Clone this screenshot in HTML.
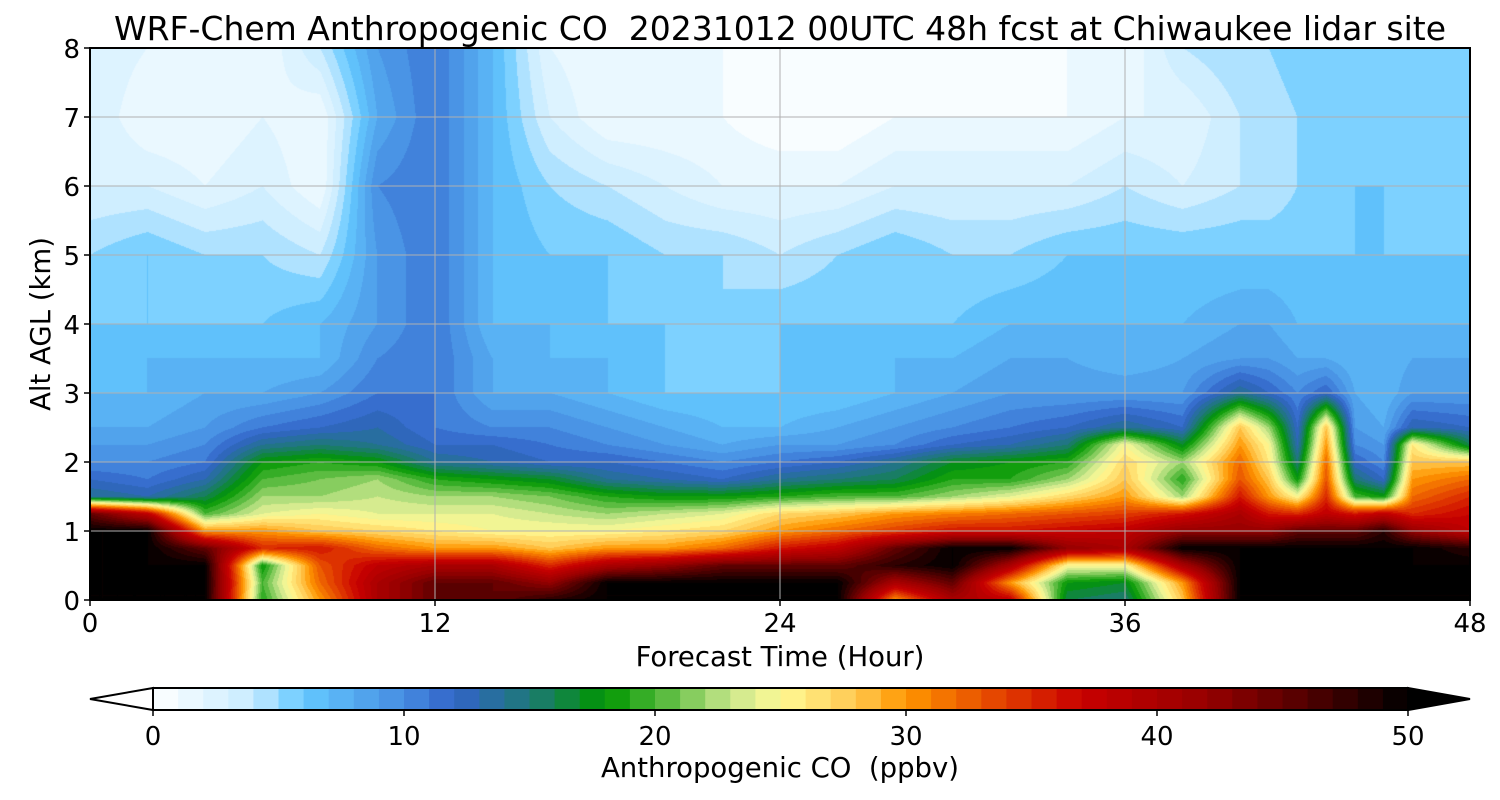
<!DOCTYPE html>
<html><head><meta charset="utf-8">
<style>
body{margin:0;background:#fff;width:1500px;height:800px;overflow:hidden;font-family:"DejaVu Sans","Liberation Sans",sans-serif}
#wrap{position:relative;width:1500px;height:800px}
canvas{position:absolute;left:90px;top:48px}
svg{position:absolute;left:0;top:0}
text{white-space:pre}
</style></head><body>
<div id="wrap">
<canvas id="cv" width="1380" height="552"></canvas>
<svg id="sv" width="1500" height="800"></svg>
</div>
<script>
const times=[0,2,4,6,8,10,12,14,16,18,20,22,24,26,28,30,32,34,36,38,40,41,42,43,44,45,46,48];
const alts=[0,0.25,0.5,0.75,1,1.25,1.5,1.75,2,2.25,2.5,3,3.5,4,5,6,7,8];
const profiles=[
[50,50,50,50,50,45,14,12,10,9,8,7,6,6,5,3,3,3],
[50,50,50,50,50,38,13,11,10,9,8,7,7,6,6,3,1,2],
[50,50,50,45,30,20,16,13,11,10,9,8,7,6,5,2,1,1],
[19,20,18,35,30,24,22,20,18,14,11,8,7,6,5,3,2,1],
[30,32,33,36,28,25,22,21,19,15,12,9,7,7,4,1,1,4],
[40,40,38,32,27,24,23,22,18,14,13,11,10,9,9,10,8,9],
[45,45,40,30,26,24,22,19,14,12,11,11,11,11,11,11,11,11],
[45,45,40,30,25,24,22,18,13,12,10,8,8,7,7,7,7,7],
[48,42,35,28,25,23,21,17,12,11,10,8,7,7,6,5,3,2],
[50,50,40,30,25,22,19,14,12,10,9,7,7,6,6,4,1,1],
[50,50,42,30,26,23,18,13,11,9,8,6,6,6,5,3,1,1],
[50,50,45,32,27,24,18,12,10,8,7,6,5,5,5,2,1,1],
[50,50,45,36,30,27,19,14,11,9,7,6,6,6,4,2,0,0],
[50,50,45,38,32,28,20,15,12,9,8,6,6,6,5,2,0,0],
[30,40,48,45,34,30,20,16,14,10,9,7,7,6,6,3,1,0],
[40,45,50,50,36,31,22,19,17,12,10,8,7,6,5,3,1,0],
[38,30,40,50,36,32,24,19,18,13,11,9,8,7,5,3,1,0],
[16,18,25,42,37,33,27,22,19,15,12,9,8,7,6,3,1,1],
[15,17,25,40,38,34,30,28,27,25,14,9,7,7,6,4,2,1],
[28,30,40,50,42,36,22,19,22,17,12,9,8,7,6,3,2,4],
[50,50,50,50,42,40,36,33,32,30,28,14,9,8,6,4,4,5],
[50,50,50,50,42,36,30,28,26,25,22,12,9,8,6,4,4,5],
[50,50,50,50,45,35,25,18,15,13,12,10,8,7,6,5,5,6],
[50,50,50,50,45,38,35,33,32,30,28,12,8,7,6,5,5,6],
[50,50,50,50,45,36,20,15,12,10,9,8,7,7,6,6,5,6],
[50,50,50,50,48,38,18,12,10,9,8,7,7,7,6,6,5,6],
[50,50,50,50,42,35,32,30,28,26,13,9,8,7,6,5,5,6],
[50,50,50,48,38,37,35,32,28,16,12,9,8,7,6,6,6,6]
];
const xTicks=[0,12,24,36,48];
const yTicks=[0,1,2,3,4,5,6,7,8];
const cbTicks=[0,10,20,30,40,50];
const cAnch=[[0,[255,255,255]],[4,[200,235,255]],[6,[100,200,255]],[10,[70,140,225]],[12,[50,100,200]],[15,[30,120,120]],[18,[0,150,0]],[20,[70,180,50]],[23,[200,230,140]],[25,[255,250,150]],[28,[255,200,80]],[30,[255,150,0]],[34,[225,60,0]],[37,[200,0,0]],[42,[150,0,0]],[46,[80,0,0]],[50,[0,0,0]]];
function cmap(v){v=Math.max(0,Math.min(50,Math.floor(v)+0.5));
 for(let i=0;i<cAnch.length-1;i++){const a=cAnch[i],b=cAnch[i+1];if(v<=b[0]){const f=(v-a[0])/(b[0]-a[0]);return a[1].map((c,k)=>Math.round(c+(b[1][k]-c)*f));}}
 return [0,0,0];}
function seg(arr,v){for(let i=0;i<arr.length-1;i++)if(v<=arr[i+1])return [i,(v-arr[i])/(arr[i+1]-arr[i])];return [arr.length-2,1];}
const L=90,T=48,W=1380,H=552;
const xS=t=>L+t/48*W, yS=z=>T+H-z/8*H;
const cv=document.getElementById('cv'),ctx=cv.getContext('2d'),img=ctx.createImageData(W,H);
const colCache=[];
for(let px=0;px<W;px++){const t=(px+0.5)/W*48;const [i,f]=seg(times,t);colCache.push([i,f]);}
for(let py=0;py<H;py++){const z=(H-py-0.5)/H*8;const [j,g]=seg(alts,z);
 for(let px=0;px<W;px++){const [i,f]=colCache[px];
  const a=profiles[i][j]*(1-g)+profiles[i][j+1]*g, b=profiles[i+1][j]*(1-g)+profiles[i+1][j+1]*g;
  const c=cmap(a*(1-f)+b*f);const o=(py*W+px)*4;img.data[o]=c[0];img.data[o+1]=c[1];img.data[o+2]=c[2];img.data[o+3]=255;}}
ctx.putImageData(img,0,0);
const sv=document.getElementById('sv'),NS='http://www.w3.org/2000/svg';
function mk(tag,at,txt){const e=document.createElementNS(NS,tag);for(const k in at)e.setAttribute(k,at[k]);if(txt!==undefined)e.textContent=txt;sv.appendChild(e);return e;}
xTicks.forEach(t=>{if(t>0&&t<48){const g=mk('line',{x1:xS(t),x2:xS(t),y1:T,y2:T+H,stroke:'#b0b0b0','stroke-width':1});
}
mk('line',{x1:xS(t),x2:xS(t),y1:T+H,y2:T+H+6,stroke:'#000','stroke-width':1.5});
const lb=mk('text',{x:xS(t),y:T+H+32,'font-size':26,'text-anchor':'middle'},t);
});
yTicks.forEach(z=>{if(z>0&&z<8){const g=mk('line',{x1:L,x2:L+W,y1:yS(z),y2:yS(z),stroke:'#b0b0b0','stroke-width':1});
}
mk('line',{x1:L-6,x2:L,y1:yS(z),y2:yS(z),stroke:'#000','stroke-width':1.5});
const lb=mk('text',{x:L-10,y:yS(z)+10,'font-size':26,'text-anchor':'end'},z);
});
const fr=mk('rect',{x:L,y:T,width:W,height:H,fill:'none',stroke:'#000','stroke-width':2});

const ti=mk('text',{x:780,y:40,'font-size':33,'text-anchor':'middle'},'WRF-Chem Anthropogenic CO  20231012 00UTC 48h fcst at Chiwaukee lidar site');

const xt=mk('text',{x:780,y:666,'font-size':27.5,'text-anchor':'middle'},'Forecast Time (Hour)');

const yt=mk('text',{x:0,y:0,'font-size':27.5,'text-anchor':'middle',transform:'translate(50,324) rotate(-90)'},'Alt AGL (km)');

const cb0=153,cb1=1408,cy0=688,cy1=710,cs=v=>cb0+v/50*(cb1-cb0);
for(let v=0;v<50;v++){const c=cmap(v);const r=mk('rect',{x:cs(v),y:cy0,width:cs(v+1)-cs(v)+0.6,height:cy1-cy0,fill:`rgb(${c})`});
}
const lt=mk('polygon',{points:`${cb0},${cy0} 90,${(cy0+cy1)/2} ${cb0},${cy1}`,fill:'#fff',stroke:'#000','stroke-width':2});

const rt=mk('polygon',{points:`${cb1},${cy0} 1470,${(cy0+cy1)/2} ${cb1},${cy1}`,fill:'#000',stroke:'#000','stroke-width':2});

mk('rect',{x:cb0,y:cy0,width:cb1-cb0,height:cy1-cy0,fill:'none',stroke:'#000','stroke-width':2});
cbTicks.forEach(v=>{mk('line',{x1:cs(v),x2:cs(v),y1:cy1,y2:cy1+6,stroke:'#000','stroke-width':1.5});
const lb=mk('text',{x:cs(v),y:745,'font-size':26,'text-anchor':'middle'},v);
});
const ct=mk('text',{x:780,y:777,'font-size':27.5,'text-anchor':'middle'},'Anthropogenic CO  (ppbv)');

</script>
</body></html>
